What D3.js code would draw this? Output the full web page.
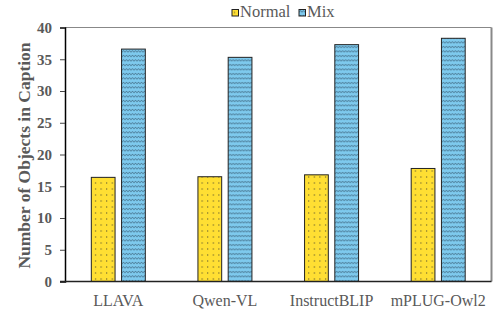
<!DOCTYPE html>
<html><head><meta charset="utf-8">
<script src="https://cdn.jsdelivr.net/npm/d3@7"></script>
<style>body{margin:0;background:#fff}svg{display:block}
svg text{font-family:"Liberation Serif","Times New Roman",Times,"DejaVu Serif",serif !important;}</style>
</head><body>
<svg id="c" width="493" height="311"></svg>
<script>
const categories = ["LLAVA","Qwen-VL","InstructBLIP","mPLUG-Owl2"];
const seriesNames = ["Normal","Mix"];
const normalValues = [16.4, 16.5, 16.8, 17.8];
const mixValues = [36.6, 35.3, 37.3, 38.3];
const yTicks = [0,5,10,15,20,25,30,35,40];

const svg = d3.select("#c");
const L=65, R=491.5, T=27.5, B=281.5;
const defs = svg.append("defs");
const pn = defs.append("pattern").attr("id","pNormal").attr("patternUnits","userSpaceOnUse")
  .attr("width",5.6).attr("height",6);
pn.append("rect").attr("width",5.6).attr("height",6).attr("fill","#FFDF33");
pn.append("rect").attr("x",2).attr("y",2).attr("width",1).attr("height",2).attr("fill","#9a8a30");
const pm = defs.append("pattern").attr("id","pMix").attr("patternUnits","userSpaceOnUse")
  .attr("width",3).attr("height",4.5);
pm.append("rect").attr("width",3).attr("height",4.5).attr("fill","#7ECAEE");
pm.append("path").attr("d","M0,3 L1.5,1 L3,3").attr("fill","none").attr("stroke","#2f4f66").attr("stroke-width",0.6);

const fills = {Normal:"url(#pNormal)", Mix:"url(#pMix)"};
const data = categories.map((c,i)=>({cat:c, vals:[{s:"Normal",v:normalValues[i]},{s:"Mix",v:mixValues[i]}]}));

const x0 = d3.scaleBand().domain(categories).range([L,R]).padding(0);
const bw = x0.bandwidth();
const grp = 54;
const x1 = d3.scaleBand().domain(seriesNames).range([(bw-grp)/2,(bw+grp)/2]).paddingInner(0.215);
const y = d3.scaleLinear().domain([0,40]).range([B,T]);

// frame
svg.append("line").attr("x1",L).attr("x2",R).attr("y1",T).attr("y2",T).attr("stroke","#888").attr("stroke-width",1);
svg.append("line").attr("x1",R).attr("x2",R).attr("y1",T).attr("y2",B).attr("stroke","#888").attr("stroke-width",2);

// bars
const g = svg.append("g").selectAll("g").data(data).join("g").attr("transform",d=>`translate(${x0(d.cat)},0)`);
g.selectAll("rect").data(d=>d.vals).join("rect")
  .attr("x",d=>x1(d.s)).attr("width",x1.bandwidth())
  .attr("y",d=>y(d.v)).attr("height",d=>B-y(d.v))
  .attr("fill",d=>fills[d.s]).attr("stroke","#222").attr("stroke-width",1);

// y axis
const ya = svg.append("g").attr("transform",`translate(${L},0)`)
  .call(d3.axisLeft(y).tickValues(yTicks).tickSize(5).tickPadding(8));
ya.attr("font-family",null);
ya.select(".domain").attr("stroke","#000").attr("stroke-width",1.5);
ya.selectAll(".tick line").attr("stroke","#444");
ya.selectAll("text").attr("font-weight","bold").attr("font-size",15).attr("fill","#595959");

// x axis
const xa = svg.append("g").attr("transform",`translate(0,${B})`)
  .call(d3.axisBottom(x0).tickSize(0).tickPadding(13));
xa.attr("font-family",null);
xa.select(".domain").attr("stroke","#222").attr("stroke-width",1.5).attr("d",`M${L-5},0H${R}`);
xa.selectAll("text").attr("font-size",16).attr("fill","#595959");

// y title
svg.append("text").attr("transform",`translate(30,${(T+B)/2+1}) rotate(-90)`).attr("text-anchor","middle")
  .attr("font-weight","bold").attr("font-size",17.5).attr("fill","#595959")
  .text("Number of Objects in Caption");

// legend
const lg = svg.append("g").attr("transform","translate(232,9.5)");
const items = lg.selectAll("g").data(seriesNames).join("g").attr("transform",(d,i)=>`translate(${i*67},0)`);
items.append("rect").attr("width",6.5).attr("height",6.5).attr("fill",d=>fills[d]).attr("stroke","#222").attr("stroke-width",1);
items.append("text").attr("x",8).attr("y",7.5).attr("font-size",16.5).attr("fill","#595959").text(d=>d);
</script>
</body></html>
